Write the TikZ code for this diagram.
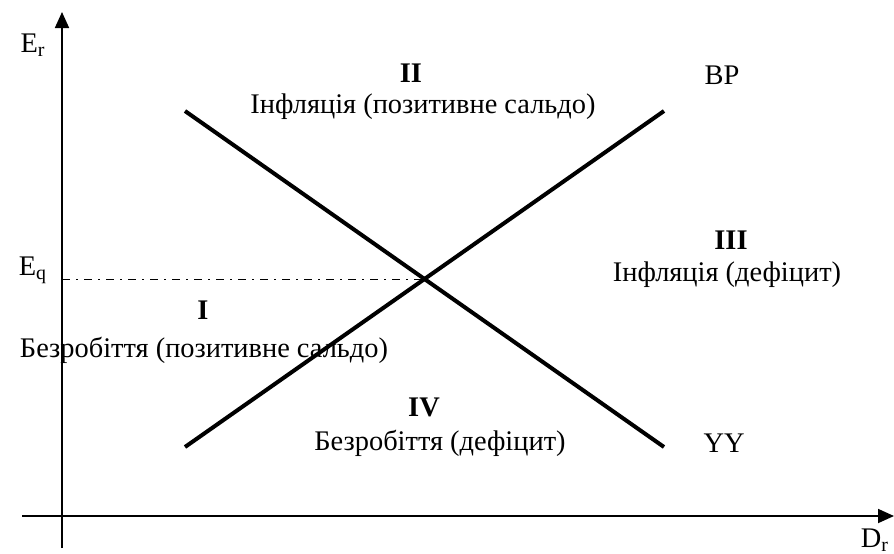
\documentclass[tikz,border=0pt]{standalone}
\usepackage{fontspec}
\setmainfont{Liberation Serif}
\usetikzlibrary{arrows.meta}

\begin{document}
\begin{tikzpicture}[
  x=0.5pt, y=-0.5pt,
  font=\fontsize{14.2}{16}\selectfont,
  axis/.style={-{Triangle[length=8pt,width=7pt]}, line width=0.9pt},
  curve/.style={line width=2pt},
  guide/.style={dash pattern=on 4pt off 3pt on 1pt off 3pt, line width=0.5pt},
  lbl/.style={inner sep=0pt},
  zone/.style={inner sep=0pt, font=\fontsize{14.2}{16}\selectfont\bfseries}
]
\useasboundingbox (0,0) rectangle (894,553);
% Axes
\coordinate (ybot) at (62,548);
\coordinate (ytop) at (62,12);
\coordinate (xleft) at (22,516);
\coordinate (xright) at (894,516);
\draw[axis] (ybot) -- (ytop);
\draw[axis] (xleft) -- (xright);
\node[lbl] (er) at (33,45) {E\textsubscript{r}};
\node[lbl] (dr) at (875,540) {D\textsubscript{r}};
% Curves
\coordinate (yy1) at (185,111);
\coordinate (yy2) at (664,447);
\coordinate (bp1) at (185,447);
\coordinate (bp2) at (664,111);
\draw[curve] (yy1) -- (yy2);
\draw[curve] (bp1) -- (bp2);
\node[lbl] (bp) at (722,75) {BP};
\node[lbl] (yy) at (724,443) {YY};
% Equilibrium level
\coordinate (eq) at (424.5,279);
\coordinate (eqaxis) at (62,279);
\draw[guide] (eqaxis) -- (eq);
\node[lbl] (eqlbl) at (33,270) {E\textsubscript{q}};
% Zones
\node[zone] (z2) at (411,73) {II};
\node[lbl] (z2t) at (423,107) {Інфляція (позитивне сальдо)};
\node[zone] (z3) at (731,240) {III};
\node[lbl] (z3t) at (727,275) {Інфляція (дефіцит)};
\node[zone] (z1) at (203,310) {I};
\node[lbl] (z1t) at (204,350) {Безробіття (позитивне сальдо)};
\node[zone] (z4) at (424,407) {IV};
\node[lbl] (z4t) at (440,443) {Безробіття (дефіцит)};
\end{tikzpicture}
\end{document}
